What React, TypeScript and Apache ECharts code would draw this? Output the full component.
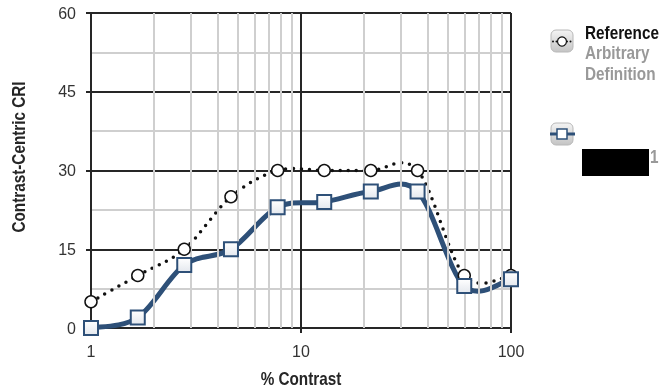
import React, { useEffect, useRef } from "react";
import * as echarts from "echarts";

const xValues = [1, 1.67, 2.78, 4.64, 7.74, 12.9, 21.5, 35.9, 59.9, 100];
const referenceValues = [5, 10, 15, 25, 30, 30, 30, 30, 10, 10];
const series1Values = [0, 2, 12, 15, 23, 24, 26, 26, 8, 9.3];
const minorGridX = [2, 3, 4, 5, 6, 7, 8, 9, 20, 30, 40, 50, 60, 70, 80, 90];
const yTicks = [0, 15, 30, 45, 60];

const FONT = "'Liberation Sans', Arial, sans-serif";
const BLUE = "#2e5078";
const DARK = "#262626";
const LIGHT = "#cfcfcf";
const SQ = 0.85;

// Spline segment (Catmull-Rom style, as a spreadsheet draws smoothed lines)
function splineItem(values: number[], lineStyle: any) {
  return (params: any, api: any) => {
    const i = params.dataIndex;
    const n = values.length;
    if (i >= n - 1) return { type: "group", children: [] };
    const p = (k: number) => {
      const kk = Math.max(0, Math.min(n - 1, k));
      return api.coord([xValues[kk], values[kk]]);
    };
    const p0 = p(i - 1);
    const p1 = p(i);
    const p2 = p(i + 1);
    const p3 = p(i + 2);
    return {
      type: "bezierCurve",
      shape: {
        x1: p1[0],
        y1: p1[1],
        cpx1: p1[0] + (p2[0] - p0[0]) / 6,
        cpy1: p1[1] + (p2[1] - p0[1]) / 6,
        cpx2: p2[0] - (p3[0] - p1[0]) / 6,
        cpy2: p2[1] - (p3[1] - p1[1]) / 6,
        x2: p2[0],
        y2: p2[1],
      },
      style: { fill: "none", ...lineStyle },
    };
  };
}

export default function App() {
  const ref = useRef<HTMLDivElement>(null);
  useEffect(() => {
    if (!ref.current) return;
    const chart = echarts.init(ref.current, undefined, { renderer: "svg" });
    const boxFill = new echarts.graphic.LinearGradient(0, 0, 0, 1, [
      { offset: 0, color: "#f4f4f4" },
      { offset: 1, color: "#c4c4c4" },
    ]);
    const squareFill = new echarts.graphic.LinearGradient(0, 0, 0, 1, [
      { offset: 0, color: "#ffffff" },
      { offset: 1, color: "#e4e8ee" },
    ]);
    const boldText = (text: string, x: number, y: number, fill: string, extra: any = {}) => ({
      type: "text",
      x,
      y,
      scaleX: SQ,
      ...extra,
      style: { text, fontFamily: FONT, fontSize: 18, fontWeight: "bold", fill, ...(extra.style || {}) },
    });
    const refData = xValues.map((x, i) => [x, referenceValues[i]]);
    const s1Data = xValues.map((x, i) => [x, series1Values[i]]);
    chart.setOption({
      animation: false,
      grid: { left: 91, right: 152, top: 13, bottom: 61 },
      xAxis: {
        type: "log",
        logBase: 10,
        min: 1,
        max: 100,
        axisLine: { show: true, lineStyle: { color: DARK, width: 2 } },
        axisTick: { show: true, length: 5, lineStyle: { color: DARK, width: 2 } },
        axisLabel: { fontFamily: FONT, fontSize: 16, color: "#333", margin: 15 },
        splitLine: { show: true, lineStyle: { color: DARK, width: 2 } },
      },
      yAxis: {
        type: "value",
        min: 0,
        max: 60,
        interval: 15,
        axisLine: { show: true, lineStyle: { color: DARK, width: 2 } },
        axisTick: { show: true, length: 5, lineStyle: { color: DARK, width: 2 } },
        axisLabel: {
          fontFamily: FONT,
          fontSize: 16,
          color: "#333",
          margin: 15,
          formatter: (v: number) => (yTicks.includes(v) ? String(v) : ""),
        },
        splitLine: { show: true, lineStyle: { color: DARK, width: 2 } },
        minorTick: { show: false, splitNumber: 2 },
        minorSplitLine: { show: true, lineStyle: { color: LIGHT, width: 2 } },
      },
      series: [
        {
          type: "line",
          z: 1,
          silent: true,
          data: [[1, 0]],
          symbol: "none",
          lineStyle: { opacity: 0 },
          markLine: {
            silent: true,
            symbol: "none",
            label: { show: false },
            lineStyle: { color: LIGHT, width: 2, type: "solid" },
            data: minorGridX.map((v) => ({ xAxis: v })),
          },
        },
        {
          type: "custom",
          z: 3,
          silent: true,
          clip: false,
          data: refData,
          encode: { x: 0, y: 1 },
          renderItem: splineItem(referenceValues, {
            stroke: "#111",
            lineWidth: 3.5,
            lineDash: [0, 8],
            lineCap: "round",
          }),
        },
        {
          type: "custom",
          z: 4,
          silent: true,
          clip: false,
          data: s1Data,
          encode: { x: 0, y: 1 },
          renderItem: splineItem(series1Values, {
            stroke: BLUE,
            lineWidth: 5,
            lineCap: "round",
            lineJoin: "round",
          }),
        },
        {
          name: "Reference Arbitrary Definition",
          type: "line",
          z: 5,
          data: refData,
          symbol: "circle",
          symbolSize: 12,
          itemStyle: { color: "#ffffff", borderColor: "#111", borderWidth: 1.5 },
          lineStyle: { width: 0, opacity: 0 },
        },
        {
          name: "1",
          type: "line",
          z: 6,
          data: s1Data,
          symbol: "rect",
          symbolSize: 14,
          itemStyle: { color: squareFill, borderColor: BLUE, borderWidth: 2 },
          lineStyle: { width: 0, opacity: 0 },
        },
      ],
      graphic: [
        boldText("Contrast-Centric CRI", 19, 157, DARK, {
          rotation: Math.PI / 2,
          style: { align: "center", verticalAlign: "middle" },
        }),
        boldText("% Contrast", 301, 379, DARK, {
          style: { align: "center", verticalAlign: "middle" },
        }),
        {
          type: "rect",
          shape: { x: 551, y: 30, width: 22, height: 22, r: 5 },
          style: { fill: boxFill, stroke: "#b8b8b8", lineWidth: 1 },
        },
        {
          type: "line",
          shape: { x1: 553, y1: 41.5, x2: 571, y2: 41.5 },
          style: { stroke: "#111", lineWidth: 2, lineDash: [0, 3.5], lineCap: "round" },
        },
        {
          type: "circle",
          shape: { cx: 562, cy: 41.5, r: 4.5 },
          style: { fill: "#fff", stroke: "#111", lineWidth: 1.2 },
        },
        boldText("Reference", 585, 24, "#111"),
        boldText("Arbitrary", 585, 44, "#999999"),
        boldText("Definition", 585, 65, "#999999"),
        {
          type: "rect",
          shape: { x: 551, y: 123, width: 22, height: 22, r: 5 },
          style: { fill: boxFill, stroke: "#b8b8b8", lineWidth: 1 },
        },
        {
          type: "line",
          shape: { x1: 550, y1: 134, x2: 575, y2: 134 },
          style: { stroke: BLUE, lineWidth: 3 },
        },
        {
          type: "rect",
          shape: { x: 557, y: 129, width: 10, height: 10 },
          style: { fill: "#fff", stroke: BLUE, lineWidth: 1.5 },
        },
        {
          type: "rect",
          shape: { x: 582, y: 149, width: 67, height: 27 },
          style: { fill: "#000" },
        },
        boldText("1", 650, 148, "#999999"),
      ],
    });
    return () => chart.dispose();
  }, []);
  return <div ref={ref} style={{ width: 663, height: 389, position: "fixed", left: 0, top: 0 }} />;
}
